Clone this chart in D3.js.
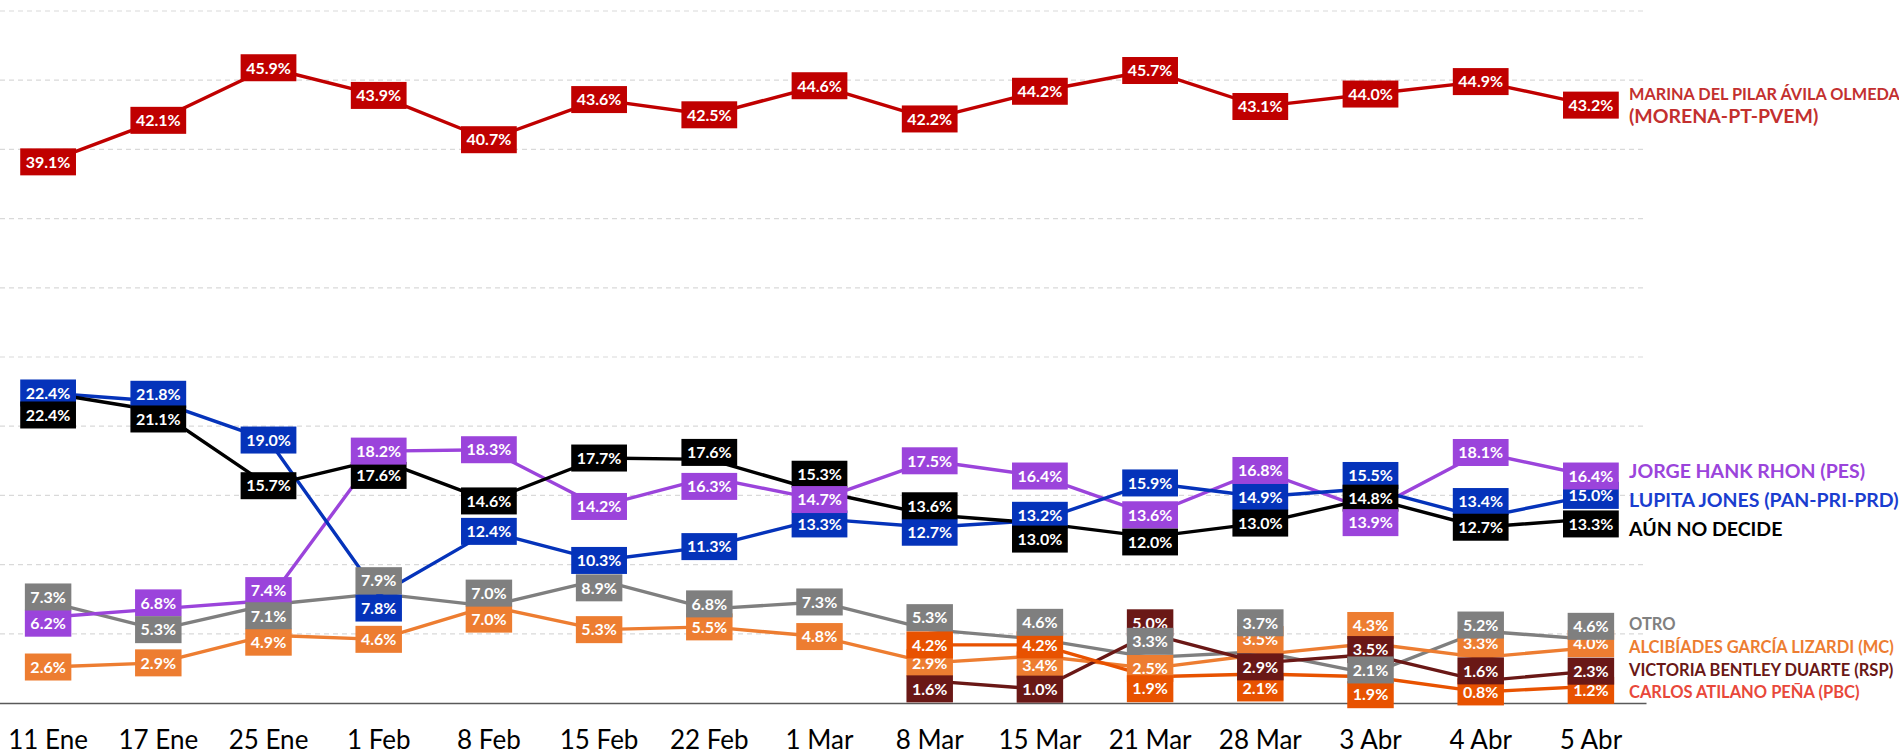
<!DOCTYPE html>
<html><head><meta charset="utf-8">
<script src="https://cdn.jsdelivr.net/npm/d3@7"></script>
<style>
body{margin:0;background:#fff;}
svg{display:block;font-family:Lato, "Open Sans", sans-serif;}
</style>
</head><body>
<svg id="chart" width="1899" height="754"></svg>
<script>
// ---------- DATA ----------
const dates = ["11 Ene","17 Ene","25 Ene","1 Feb","8 Feb","15 Feb","22 Feb","1 Mar","8 Mar","15 Mar","21 Mar","28 Mar","3 Abr","4 Abr","5 Abr"];
const yTicks = [5,10,15,20,25,30,35,40,45,50];
const marina   = [39.1,42.1,45.9,43.9,40.7,43.6,42.5,44.6,42.2,44.2,45.7,43.1,44.0,44.9,43.2];
const lupita   = [22.4,21.8,19.0,7.8,12.4,10.3,11.3,13.3,12.7,13.2,15.9,14.9,15.5,13.4,15.0];
const jorge    = [6.2,6.8,7.4,18.2,18.3,14.2,16.3,14.7,17.5,16.4,13.6,16.8,13.9,18.1,16.4];
const aun      = [22.4,21.1,15.7,17.6,14.6,17.7,17.6,15.3,13.6,13.0,12.0,13.0,14.8,12.7,13.3];
const otro     = [7.3,5.3,7.1,7.9,7.0,8.9,6.8,7.3,5.3,4.6,3.3,3.7,2.1,5.2,4.6];
const alcib    = [2.6,2.9,4.9,4.6,7.0,5.3,5.5,4.8,2.9,3.4,2.5,3.5,4.3,3.3,4.0];
const victoria = [null,null,null,null,null,null,null,null,1.6,1.0,5.0,2.9,3.5,1.6,2.3];
const carlos   = [null,null,null,null,null,null,null,null,4.2,4.2,1.9,2.1,1.9,0.8,1.2];
const seriesNames = {
  marina: ["MARINA DEL PILAR ÁVILA OLMEDA","(MORENA-PT-PVEM)"],
  jorge: ["JORGE HANK RHON (PES)"],
  lupita: ["LUPITA JONES (PAN-PRI-PRD)"],
  aun: ["AÚN NO DECIDE"],
  otro: ["OTRO"],
  alcib: ["ALCIBÍADES GARCÍA LIZARDI (MC)"],
  victoria: ["VICTORIA BENTLEY DUARTE (RSP)"],
  carlos: ["CARLOS ATILANO PEÑA (PBC)"]
};

// ---------- STYLE / LAYOUT ----------
const style = {
  marina:   {box:"#C00000", text:"#C3302F"},
  lupita:   {box:"#0533BA", text:"#1A3DCF"},
  jorge:    {box:"#9B44DB", text:"#9B44DB"},
  aun:      {box:"#000000", text:"#000000"},
  otro:     {box:"#7F7F7F", text:"#808080"},
  alcib:    {box:"#ED7D31", text:"#ED7D31"},
  victoria: {box:"#6A1816", text:"#6A1816"},
  carlos:   {box:"#E85200", text:"#E8483A"}
};
// manual data-label nudges (px, + = down)
const nudge = {
  marina:   [0,0,0,0,0,0,0,0,0,0,0,0,0,0,0],
  lupita:   [0,-7,0,13,0,0,0,5,5,-5,0,0,-13,-16,0],
  jorge:    [6,-6,-10,0,0,0,9,0,0,0,0,0,12,0,0],
  aun:      [22,8,0,16,0,0,-7,-17,-9,16,5,0,0,0,5],
  otro:     [-5,0,11,-13,-13,8,-5,0,-12,-17,-16,-29,-4,-6,-13],
  alcib:    [0,0,7,0,13,0,0,0,0,9,0,-15,-18,-14,-4],
  victoria: [0,0,0,0,0,0,0,0,8,0,-11,4,-5,-10,0],
  carlos:   [0,0,0,0,0,0,0,0,0,0,12,14,18,0,4]
};
const legendY = {marina:100, jorge:478, lupita:507, aun:536, otro:630, alcib:653, victoria:676, carlos:698};
const legendSize = {marina:[16.3,19.5], jorge:[19.5], lupita:[19.5], aun:[19.5], otro:[16.5], alcib:[16.5], victoria:[16.5], carlos:[16.5]};

const series = [
  {key:"marina", values:marina},
  {key:"otro", values:otro},
  {key:"alcib", values:alcib},
  {key:"victoria", values:victoria},
  {key:"carlos", values:carlos},
  {key:"jorge", values:jorge},
  {key:"lupita", values:lupita},
  {key:"aun", values:aun}
];

const svg = d3.select("#chart");
const x = d3.scaleBand().domain(dates).range([-7, 1646]).padding(0);
const cx = d => x(d) + x.bandwidth()/2;
const y = d3.scaleLinear().domain([0,50]).range([703, 11]);

// gridlines
svg.append("g").selectAll("line").data(yTicks).join("line")
  .attr("x1",0).attr("x2",1646)
  .attr("y1",d=>y(d)).attr("y2",d=>y(d))
  .attr("stroke","#D9D9D9").attr("stroke-width",1.2).attr("stroke-dasharray","5,4");

// x axis
const xAxis = svg.append("g").attr("transform",`translate(0,${y(0)})`)
  .call(d3.axisBottom(x).tickSize(0).tickSizeOuter(0));
xAxis.select(".domain").attr("stroke","#595959").attr("stroke-width",1.5);
xAxis.selectAll("text").attr("y",46).attr("dy",0)
  .attr("font-family","Lato, sans-serif").attr("font-size",26).attr("fill","#000");

// lines
const line = d3.line().defined(d=>d.v!=null).x(d=>cx(d.date)).y(d=>y(d.v));
series.forEach(s=>{
  const pts = dates.map((d,i)=>({date:d, v:s.values[i]}));
  svg.append("path").datum(pts).attr("d",line)
    .attr("fill","none").attr("stroke",style[s.key].box).attr("stroke-width",3.4)
    .attr("stroke-linejoin","round");
});

// labels
const labelOrder = ["marina","lupita","aun","jorge","alcib","carlos","victoria","otro"];
const byKey = Object.fromEntries(series.map(s=>[s.key,s]));
labelOrder.forEach(k=>{
  const s = byKey[k];
  const g = svg.append("g");
  dates.forEach((d,i)=>{
    const v = s.values[i];
    if (v==null) return;
    const px = cx(d), py = y(v) + nudge[k][i];
    const lg = g.append("g").attr("transform",`translate(${px},${py})`);
    const rect = lg.append("rect").attr("fill",style[k].box);
    const t = lg.append("text").text(v.toFixed(1)+"%")
      .attr("text-anchor","middle").attr("dy","0.36em")
      .attr("font-family","Lato, sans-serif").attr("font-weight",700)
      .attr("font-size",16).attr("fill","#fff");
    const w = t.node().getComputedTextLength() + 11;
    rect.attr("x",-w/2).attr("y",-13.5).attr("width",w).attr("height",27);
  });
});

// legend (series names at right)
Object.keys(legendY).forEach(k=>{
  seriesNames[k].forEach((ln,j)=>{
    svg.append("text").attr("x",1629).attr("y",legendY[k] + j*23)
      .attr("font-family","Lato, sans-serif").attr("font-weight",700)
      .attr("font-size",legendSize[k][j]).attr("fill",style[k].text)
      .text(ln);
  });
});
</script>
</body></html>
